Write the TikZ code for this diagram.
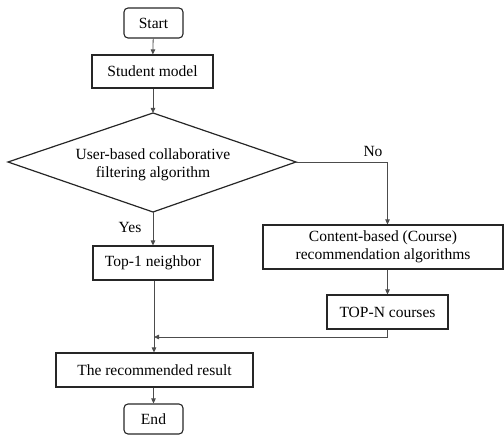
\documentclass[tikz,border=0pt]{standalone}
\usepackage{fontspec}
\setmainfont{Liberation Serif}
\usetikzlibrary{arrows.meta}
\begin{document}
\begin{tikzpicture}[x=1bp,y=-1bp,
  box/.style={draw=black!85,line width=1.1bp,inner sep=0pt,font=\fontsize{15.6}{18}\selectfont,align=center},
  term/.style={box,rounded corners=4bp},
  conn/.style={draw=black!70,line width=0.8bp},
  arr/.style={conn,-{Triangle[length=5bp,width=4.5bp]}},
  lbl/.style={font=\fontsize{15.6}{18}\selectfont,inner sep=0pt}]
\useasboundingbox (0,0) rectangle (504,435);
% nodes
\node[term,minimum width=59bp,minimum height=30bp] (start) at (153.5,23) {Start};
\node[box,minimum width=121bp,minimum height=33bp] (sm) at (152.5,71.5) {Student model};
\coordinate (dtop) at (153,113);
\coordinate (dright) at (296,162);
\coordinate (dbot) at (153,212);
\coordinate (dleft) at (8,162);
\draw[draw=black!85,line width=1.2bp] (dtop) -- (dright) -- (dbot) -- (dleft) -- cycle;
\node[lbl,align=center] (dec) at (153,165) {User-based collaborative\\filtering algorithm};
\node[box,minimum width=120bp,minimum height=34bp] (top1) at (153,263) {Top-1 neighbor};
\node[box,minimum width=240bp,minimum height=44bp] (cb) at (383,247) {Content-based (Course)\\recommendation algorithms};
\node[box,minimum width=121bp,minimum height=34bp] (topn) at (387.5,312) {TOP-N courses};
\node[box,minimum width=197bp,minimum height=34bp] (res) at (154.5,370) {The recommended result};
\node[term,minimum width=59bp,minimum height=30bp] (end) at (153.5,419) {End};
% labels
\node[lbl] (no) at (373,151) {No};
\node[lbl] (yes) at (130,227) {Yes};
% connectors
\draw[arr] (start) -- (sm);
\draw[arr] (sm.south -| dtop) -- (dtop);
\draw[arr] (dbot) -- (top1.north -| dbot);
\draw[arr] (dright) -| (cb.north -| topn);
\draw[arr] (cb.south -| topn) -- (topn);
\coordinate (j) at (154,337);
\draw[arr] (topn.south) |- (j);
\draw[arr] (top1.south -| j) -- (res.north -| j);
\draw[arr] (res.south -| end) -- (end);
\end{tikzpicture}
\end{document}
